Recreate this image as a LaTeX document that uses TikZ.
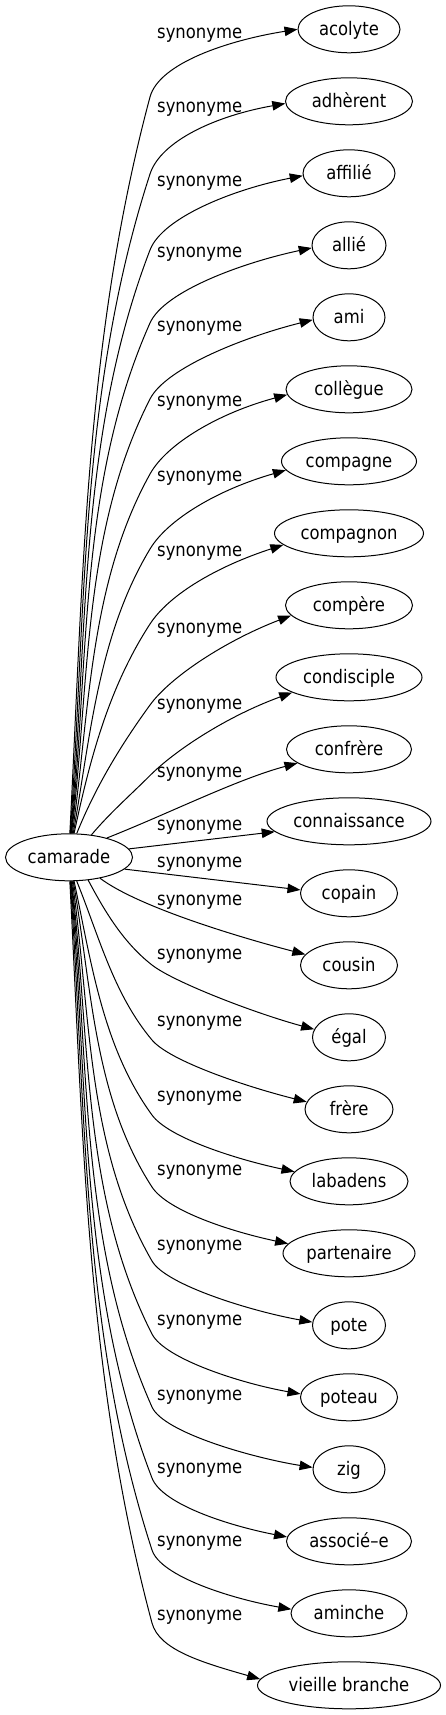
\documentclass[tikz,border=0pt]{standalone}
\usepackage{fontspec}
\setmainfont{DejaVu Sans}[FakeStretch=0.88]
\usetikzlibrary{shapes.geometric,arrows.meta,calc}
\begin{document}
\begin{tikzpicture}[x=1pt,y=-1pt,
  every node/.style={font=\fontsize{18.67pt}{22pt}\selectfont},
  word/.style={ellipse,draw,line width=1pt,minimum height=47pt,inner sep=0pt,text height=12.4pt,text depth=0pt},
  lab/.style={anchor=base,inner sep=0pt},
  edge/.style={line width=1pt,-{Triangle[length=13pt,width=9.5pt]}}]
\fill[white] (0,0) rectangle (445,1715);
\useasboundingbox (0,0) rectangle (445,1715);

\node[word,minimum width=127pt] (camarade) at (69,857.3) {camarade};

\foreach \nm/\tx/\w [count=\i from 0] in {acolyte/acolyte/102, adherent/adhèrent/127, affilie/affilié/92, allie/allié/74, ami/ami/72, collegue/collègue/126, compagne/compagne/135, compagnon/compagnon/149, compere/compère/127, condisciple/condisciple/146, confrere/confrère/125, connaissance/connaissance/164, copain/copain/97, cousin/cousin/97, egal/égal/73, frere/frère/88, labadens/labadens/118, partenaire/partenaire/132, pote/pote/73, poteau/poteau/97, zig/zig/72, associe/associé–e/125, aminche/aminche/116, vieille/vieille branche/183}
  \node[word,minimum width=\w pt] (\nm) at (349,{29.3+72*\i}) {\tx};

\foreach \L [count=\i from 0] in {34,108,182,253,327,402,477,552,629,705.5,773,826.5,863,901,955,1022,1097,1171,1246,1321,1396,1469,1542,1616}
  \node[lab] (l\i) at (199.7,\L+4.3) {synonyme};

% upper edges
\foreach \nm/\L/\bb/\pb/\ps/\sa/\ea/\ae in {acolyte/34/63/15/3/88/180/9, adherent/108/66/18/4/87/182/10, affilie/182/68/21/5/86/183/11, allie/253/70/24/6/85/184/12, ami/327/72/27/7/84/184/14, collegue/402/72/29/8/82/185/15, compagne/477/72/31/10/80/188/16, compagnon/552/72/33/12/78/190/18, compere/629/76/36/22/72/190/21, condisciple/705.5/70/45/40/45/195/20}{
  \pgfmathsetmacro\eR{1536/sqrt((24*cos(\sa))^2+(64*sin(\sa))^2)}
  \pgfmathsetmacro\eSx{69+\eR*cos(\sa)}
  \pgfmathsetmacro\eSy{857.3-\eR*sin(\sa)}
  \pgfmathsetmacro\eBy{\L+\bb}
  \pgfmathsetmacro\eH{34*sqrt(((150-\eSx)/100)^2+((\eBy-\eSy)/100)^2)}
  \pgfmathsetmacro\eAx{\eSx+\eH*sin(\ps)}
  \pgfmathsetmacro\eAy{\eSy-\eH*cos(\ps)}
  \pgfmathsetmacro\eCx{150-\eH*sin(\pb)}
  \pgfmathsetmacro\eCy{\eBy+\eH*cos(\pb)}
  \pgfmathsetmacro\eDx{150+35*sin(\pb)}
  \pgfmathsetmacro\eDy{\eBy-35*cos(\pb)}
  \pgfmathsetmacro\eFx{-70*cos(\ae)}
  \pgfmathsetmacro\eFy{70*sin(\ae)}
  \draw[edge] (camarade.\sa) .. controls (\eAx,\eAy) and (\eCx,\eCy) .. (150,\eBy) .. controls (\eDx,\eDy) and ($(\nm.\ea)+(\eFx,\eFy)$) .. (\nm.\ea);
}

% middle edges
\draw[edge] (camarade.27) .. controls ($(camarade.27)+(63,-25)$) and ($(confrere.195)+(-60,16)$) .. (confrere.195);
\draw[edge] (camarade.8) -- (connaissance.188);
\draw[edge] (camarade.348) -- (copain.176);
\draw[edge] (camarade.326) .. controls ($(camarade.326)+(40,30)$) and ($(cousin.166)+(-58,-15)$) .. (cousin.166);

% lower edges
\foreach \nm/\L/\bb/\pb/\ps/\sa/\ea/\ae in {egal/955/10/52/28/310/167/15, frere/1022/18/40/22/288/170/14, labadens/1097/18/36/12/282/170/12, partenaire/1171/16/33/10/280/171/12, pote/1246/15/30/8/278/175/10, poteau/1321/13/27/7/276/176/10, zig/1396/11/24/6/275/177/9, associe/1469/9/21/5/274/176/11, aminche/1542/8/18/4/273/176/10, vieille/1616/7/15/3/272/176/16}{
  \pgfmathsetmacro\eR{1536/sqrt((24*cos(\sa))^2+(64*sin(\sa))^2)}
  \pgfmathsetmacro\eSx{69+\eR*cos(\sa)}
  \pgfmathsetmacro\eSy{857.3-\eR*sin(\sa)}
  \pgfmathsetmacro\eBy{\L+\bb}
  \pgfmathsetmacro\eH{34*sqrt(((152-\eSx)/100)^2+((\eBy-\eSy)/100)^2)}
  \pgfmathsetmacro\eAx{\eSx+\eH*sin(\ps)}
  \pgfmathsetmacro\eAy{\eSy+\eH*cos(\ps)}
  \pgfmathsetmacro\eCx{152-\eH*sin(\pb)}
  \pgfmathsetmacro\eCy{\eBy-\eH*cos(\pb)}
  \pgfmathsetmacro\eDx{152+28*sin(\pb)}
  \pgfmathsetmacro\eDy{\eBy+28*cos(\pb)}
  \pgfmathsetmacro\eFx{-60*cos(\ae)}
  \pgfmathsetmacro\eFy{-60*sin(\ae)}
  \draw[edge] (camarade.\sa) .. controls (\eAx,\eAy) and (\eCx,\eCy) .. (152,\eBy) .. controls (\eDx,\eDy) and ($(\nm.\ea)+(\eFx,\eFy)$) .. (\nm.\ea);
}
\end{tikzpicture}
\end{document}
